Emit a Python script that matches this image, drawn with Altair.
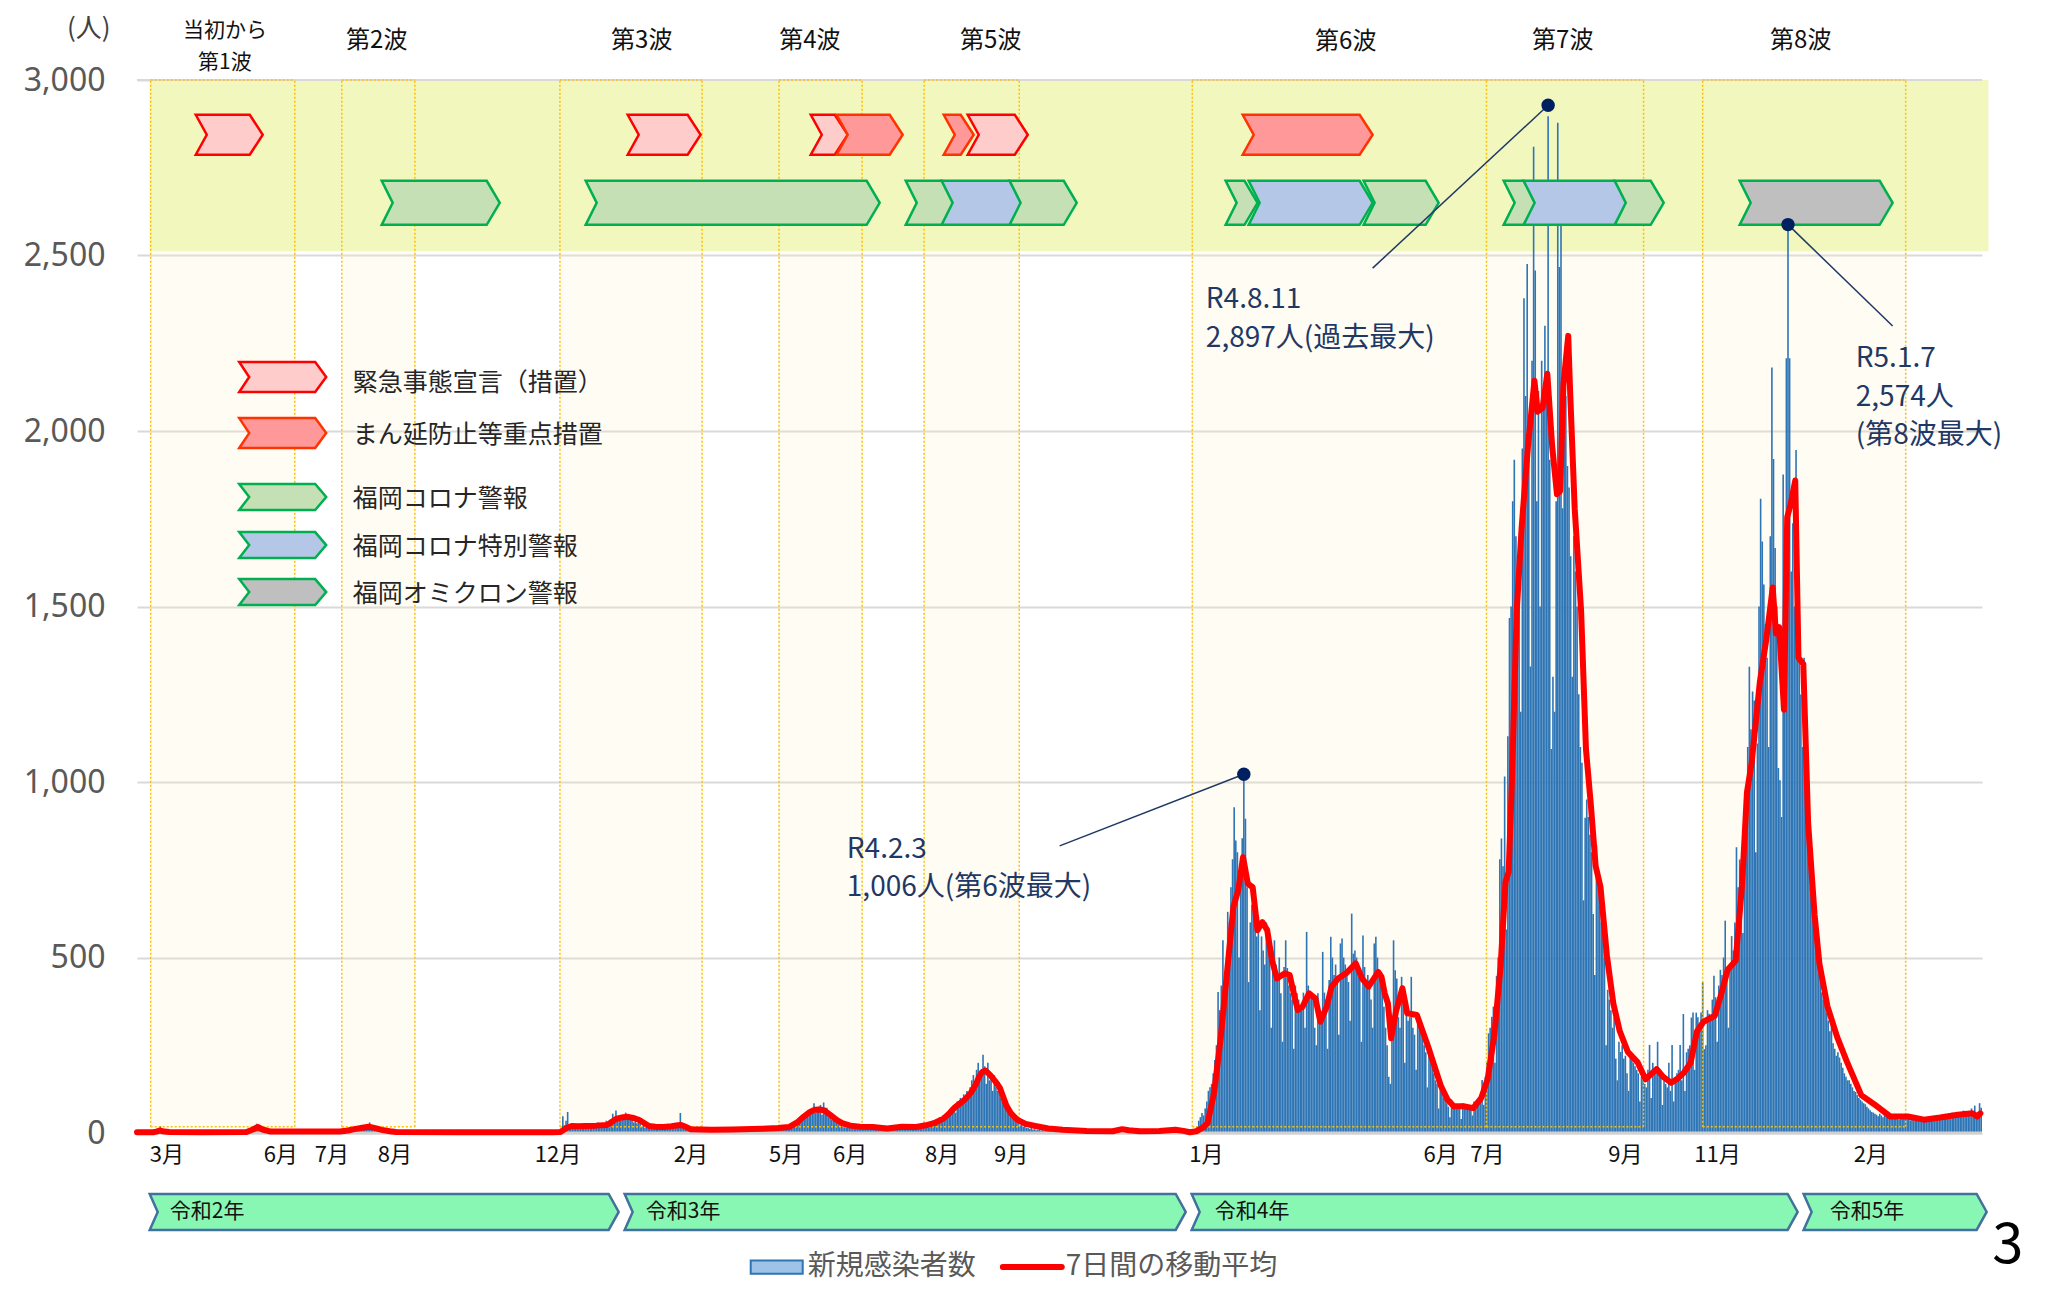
import altair as alt
import pandas as pd

# ------------------------------------------------------------------
# Daily new cases (day index 0 = first day of the axis, 2020-03-18)
# ------------------------------------------------------------------
BARS_A = [0,0,0,0,0,0,0,0,0,0,0,1,
          2,8,20,9,4,3,
          1,2,0,1,3,1,0,2,
          1,0,1,2,0,1,0,0,1,0,2,1,0,0,1,
          0,0,1,0,0,0,0,0,1,0,0,0,0,0,0,0,0,0,0,0,0,0,0,0,0,1,0,2,4,
          3,8,12,21,26,18,22,15,10,6,4,2,1,
          1,0,2,1,0,0,1,0,0,0,1,0,0,0,0,1,0,0,0,0,0,0,1,0,0,0,0,0,0,0,1,0,0,0,0,0,1,0,0,0,0,0,1,0,0,1,0,
          1,2,3,4,5,7,9,8,11,14,12,15,17,22,30,16,14,19,13,10,11,8,6,5,4,3,3,2,2,1,1,
          1,0,2,1,0,1,0,0,1,2,0,1,0,0,1,0,2,1,0,0,1,0,0,0,1,0,0,1,0,0,
          0,0,1,0,0,0,0,1,0,0,0,1,0,0,0,0,0,0,1,0,0,0,0,1,0,0,0,0,0,1,
          0,0,0,0,1,0,0,0,0,0,1,0,0,0,0,1,0,0,0,1,0,0,1,0,0,0,1,0,1,0,
          0,1,0,2,1,0,1,2,1]
BARS_B = [1,2,3,10,48,22,35, 60,15,20,18,12,25,14, 22,16,20,28,14,18,24,
          20,15,22,18,25,30,16, 22,28,20,35,26,30,40, 55,38,64,42,48,36,50,
          45,58,40,52,38,44,30, 35,28,40,30,18,22,15, 20,16,14,22,18,12,15,
          18,20,14,12,16,22,18, 15,20,25,18,28,22,24, 57,20,18,10,8,12,6,
          10,8,12,6,9,11,7]
BARS_C = [8,12,6,10,9,14,7, 9,11,5,8,12,10,7, 6,10,14,9,8,12,11, 7,13,10,12,9,15,8,
          10,14,12,9,11,16,13, 8,12,15,11,14,10,13, 9,16,12,14,18,13,15, 11,18,14,20,16]
BARS_D = [15,22,18,30,25,35,40, 45,38,52,60,48,55,62, 70,85,58,66,75,80,52,
          87,60,72,45,50,38,42, 35,30,28,22,25,18,20, 16,22,15,18,20,14,17]
BARS_E = [12,18,15,20,14,16,13, 10,15,18,14,12,20,16, 9,14,12,15,11,13,10,
          12,16,18,20,15,22,19, 14,20,17,22,16,18,15, 13,18,22,16,20,24,19, 21]
BARS_F = [18,25,30,22,35,28,40, 38,45,42,50,36,55,48, 60,72,65,80,58,90,85,
          100,92,110,85,120,105,130, 150,165,140,180,200,160,175, 223,190,140,200,150,160,120,
          165,130,120,145,100,90,110, 80,70,60,55,45,40,35, 30,28,22,25,18,20,15,
          14,12,16,10,11,8,9]
BARS_G = [10,7,9,6,8,5,7, 6,4,8,5,6,4,5, 7,5,6,3,4,6,5, 4,3,5,2,4,3,6, 5,4,2,3,5,4,3,
          4,6,3,5,7,4,6, 5,8,6,9,12,10,14, 11,15,10,12,9,8,7, 6,5,8,4,6,3,5, 4,3,6,5,4,2,3,
          5,4,6,3,7,5,4, 6,8,5,9,7,10,12, 9,11,8,10,7,6,5, 3,2,4,6]
BARS_H = [3,5,10,20,35,45,57, 50,70,90,120,130,140,170, 208,250,402,350,420,549,340,
          480,630,600,700,780,928,833, 800,500,760,840,1006,895,700, 430,600,650,700,600,560,620,
          350,560,520,480,600,560,500, 300,520,549,480,450,500,398, 260,473,549,470,420,398,380,
          240,420,398,380,360,350,400, 300,573,420,398,400,380,300, 250,398,350,330,516,400,380,
          240,436,559,500,450,480,430, 280,540,554,500,480,460,430, 320,625,511,520,500,470,450,
          260,563,473,430,450,420,380, 300,540,559,500,464,436,400, 360,300,250,160,140,280,549,
          464,440,330,300,445,420,200, 340,320,330,445,300,280,180, 341,331,300,280,250,230,130,
          237,220,200,170,150,140,70, 133,120,100,95,85,75,45, 95,85,80,75,70,80,40,
          85,80,75,72,70,78,50, 90,85,95,100,110,151,80, 160,200,284,300,331,360,200]
BARS_I = [447,500,780,839,760,1016,580, 1130,1467,1500,1800,1918,1700,1500,
          1700,1200,1950,2378,2100,2476,1937, 1329,2200,2810,2457,1800,2114,1500,
          2200,2114,2300,2100,2897,1918,1094, 1300,1200,1800,2878,2467,2692,1780,
          2200,2100,1900,1839,1643,1300,1700, 1600,1500,1250,1100,1055,663,898,
          950,900,850,800,624,450,820, 750,650,600,580,500,250,408,
          380,350,300,330,212,150,260, 231,250,212,220,170,120,230,
          210,200,190,180,170,90,160, 150,140,130,180,251,100,200,
          180,190,260,170,160,80,150, 140,130,200,120,251,90,160,
          170,180,251,150,339,120,230, 240,250,329,343,180,343,330,
          300,343,430,239,250,350,340, 330,380,448]
BARS_J = [387,260,420,465,450,500,605,448,300,480,
          561,520,600,814,700,779,720,570,850,953,
          1100,1328,1150,1258,1232,800,1110,1500,1807,1685,
          1563,1450,1354,1100,1700,2181,1920,1667,1500,1040,
          1005,900,1876,1650,2207,2574,2207,1600,1737,1500,
          1946,1667,1400,1249,1100,1354,1000,900,866,700,
          796,650,622,520,480,448,400,380,430,343,
          320,290,308,256,240,220,230,215,200,186,
          170,160,150,150,140,130,120,117,108,100,
          95,90,85,82,75,70,65,60,58,55]
BARS_K = [52,48,55,50,45,52,48, 44,40,52,48,42,46,40, 38,50,46,42,55,44,40,
          36,42,38,35,44,40,36, 34,40,38,42,46,40,38, 40,48,45,42,50,46,44,
          44,52,48,56,50,58,48, 46,55,60,52,58,64,52, 50,60,56,70,62,78,55, 58,85,72]
BAR_SEGMENTS = [(0, BARS_A), (260, BARS_B), (351, BARS_C), (405, BARS_D), (447, BARS_E),
                (490, BARS_F), (560, BARS_G), (655, BARS_H), (844, BARS_I), (980, BARS_J),
                (1080, BARS_K)]

# 7-day moving average
MA_DAY = [0,10,12,14,17,20,40,68,72,75,78,83,126,131,135,140,144,148,152,157,161,200,240,258,
          263,267,270,274,279,285,292,295,298,302,305,309,312,318,322,327,332,336,338,341,344,
          350,357,370,388,398,405,410,414,418,421,424,427,431,435,438,443,449,457,466,475,484,
          490,495,501,505,508,514,518,521,523,525,527,530,533,536,540,543,547,552,558,566,575,
          590,606,612,616,623,635,645,650,654,658,662,665,669,673,677,681,684,687,690,693,696,
          699,702,705,708,713,716,719,721,724,728,732,735,739,742,746,751,757,761,765,771,773,
          775,777,779,782,786,789,795,802,806,810,814,818,824,830,835,839,843,847,850,852,854,
          857,860,864,868,870,873,876,879,882,884,886,889,890,893,897,900,903,906,909,913,917,
          921,926,932,937,941,944,948,953,957,961,965,969,973,980,984,988,993,997,1000,1003,
          1008,1012,1016,1018,1020,1023,1025,1027,1030,1032,1035,1038,1042,1045,1050,1056,1062,
          1071,1079,1089,1100,1110,1120,1131,1140,1143,1145]
MA_VAL = [2,2,4,7,4,3,2,3,10,17,10,4,4,7,11,15,18,14,9,5,3,2,2,2,
          3,15,20,19,20,21,23,32,41,45,46,42,37,20,18,17,19,22,23,17,11,
          10,9,10,12,14,17,30,46,60,66,67,64,50,36,28,21,18,17,13,18,17,
          22,28,41,58,73,94,115,138,160,174,178,165,148,128,78,55,37,26,20,13,9,
          6,5,11,8,5,6,9,6,2,5,15,28,114,265,455,644,691,786,710,700,578,
          601,578,492,440,455,450,388,350,360,398,383,317,360,417,440,455,483,440,417,459,445,
          398,369,270,346,412,341,336,246,189,133,95,76,76,71,100,155,277,475,715,745,1000,
          1486,1722,1957,2143,2055,2065,2163,1957,1820,1829,2133,2271,2133,1780,1486,1094,937,761,702,506,369,
          290,231,202,153,170,182,160,143,155,173,200,290,317,334,395,465,491,709,970,1057,
          1284,1406,1554,1423,1441,1206,1754,1789,1859,1354,1336,883,622,483,361,274,204,
          108,82,47,47,38,44,52,56,47,56]

# Waves (shaded periods, day index)
WAVE_START = [8.5, 127.2, 262.7, 398.8, 488.9, 655.5, 838.2, 972.5]
WAVE_END = [98.0, 172.6, 351.0, 450.4, 548.0, 838.2, 935.8, 1098.6]
FIRST_TITLE = ["当初から", "第1波"]
FIRST_TITLE_VAL = [3140, 3049]
WAVE_TITLE = ["第2波", "第3波", "第4波", "第5波", "第6波", "第7波", "第8波"]
WAVE_TITLE_DAY = [148.9, 313.5, 417.9, 530.3, 750.8, 885.6, 1033.4]
WAVE_TITLE_VAL = [3111, 3111, 3111, 3111, 3108, 3111, 3111]

# Alert periods (chevrons across the top band)
ALERT_KIND = ["E", "E", "E", "M", "M", "E", "M",
              "G", "G", "G", "B", "G", "G", "B", "G", "G", "B", "G", "O"]
ALERT_START = [36.5, 304.8, 418.5, 434.6, 501.1, 516.0, 686.8,
               152.0, 278.7, 477.5, 499.8, 542.0, 676.2, 690.5, 761.9, 848.9, 861.3, 917.9, 995.5]
ALERT_END = [78.1, 350.1, 441.5, 475.6, 519.7, 553.3, 767.5,
             225.3, 461.3, 508.0, 550.1, 583.7, 696.0, 767.5, 808.5, 869.4, 925.9, 948.3, 1090.5]

LEGEND_KIND = ["E", "M", "G", "B", "O"]
LEGEND_LABEL = ["緊急事態宣言（措置）", "まん延防止等重点措置", "福岡コロナ警報", "福岡コロナ特別警報", "福岡オミクロン警報"]
LEGEND_VAL = [2154, 1994, 1812, 1675, 1541]
LEGEND_TEXT_VAL = [2136, 1990, 1806, 1670, 1536]

MONTH_LABEL = ["3月", "6月", "7月", "8月", "12月", "2月", "5月", "6月", "8月", "9月",
               "1月", "6月", "7月", "9月", "11月", "2月"]
MONTH_DAY = [18.5, 89.3, 121.0, 160.2, 261.5, 344.1, 403.2, 443.0, 500.1, 543.0,
             664.2, 809.7, 838.8, 924.5, 981.7, 1076.9]

YEAR_LABEL = ["令和2年", "令和3年", "令和4年", "令和5年"]
YEAR_START = [7.9, 302.9, 655.1, 1035.2]
YEAR_END = [299.2, 651.4, 1031.5, 1148.9]
YEAR_TEXT_DAY = [20.4, 316.0, 669.5, 1051.4]

PEAK_DAY = [687, 876, 1025]
PEAK_VAL = [1006, 2897, 2574]
NOTE_LINES = [["R4.2.3", "1,006人(第6波最大)"],
              ["R4.8.11", "2,897人(過去最大)"],
              ["R5.1.7", "2,574人", "(第8波最大)"]]
NOTE_DAY = [440.9, 663.9, 1067.6]
NOTE_TOP_VAL = [806, 2372, 2204]
LEADER_END_DAY = [573.1, 767.5, 1090.5]
LEADER_END_VAL = [818, 2464, 2299]

# ------------------------------------------------------------------
DAYS = 1146
W, H = 1845, 1053
PXD = W / DAYS
FONT = "Noto Sans CJK JP"

XS = alt.Scale(domain=[0, DAYS], nice=False, zero=False)
YS = alt.Scale(domain=[0, 3000], nice=False, zero=False)
YAX = alt.Axis(values=[0, 500, 1000, 1500, 2000, 2500, 3000], title=None,
               labelExpr="format(datum.value, ',')",
               ticks=False, domain=False, labelFontSize=32, labelColor="#595959",
               labelFont="Noto Sans", labelPadding=32, gridColor="#D9D9D9", gridWidth=2)


def X(f):
    return alt.X(f, type="quantitative", scale=XS, axis=None)


def Y(f):
    return alt.Y(f, type="quantitative", scale=YS, axis=YAX)


STYLE = {
    "E": ("#FFCCCC", "#FF0000"),
    "M": ("#FF9999", "#FF3300"),
    "G": ("#C5E0B4", "#00B050"),
    "B": ("#B4C7E7", "#00B050"),
    "O": ("#BFBFBF", "#00B050"),
}


def chevron(w, h, tip, notch):
    s = w / 2.0
    pts = [(-w / 2, -h / 2), (w / 2 - tip, -h / 2), (w / 2, 0),
           (w / 2 - tip, h / 2), (-w / 2, h / 2), (-w / 2 + notch, 0)]
    return "M" + "L".join(f"{x / s:.5f},{y / s:.5f}" for x, y in pts) + "Z"


# bars
rows = []
for start, vals in BAR_SEGMENTS:
    for i, v in enumerate(vals):
        if v > 0:
            rows.append({"d": start + i, "d2": start + i + 1, "v": v, "b": 0})
bars_df = pd.DataFrame(rows)
ma_df = pd.DataFrame({"d": MA_DAY, "v": MA_VAL})

# wave boxes
box_df = pd.DataFrame({"s": WAVE_START, "e": WAVE_END, "b": 18, "t": 3000})
edges = sorted(set(WAVE_START + WAVE_END))
vline_df = pd.DataFrame({"x": edges, "b": 18, "t": 3000})
hline_df = pd.DataFrame({"s": WAVE_START * 2, "e": WAVE_END * 2, "y": [3000] * 8 + [18] * 8})

# symbols
sym_rows = []
for k, s, e in zip(ALERT_KIND, ALERT_START, ALERT_END):
    row1 = k in ("E", "M")
    w = (e - s) * PXD
    h = 40 if row1 else 44
    fill, stroke = STYLE[k]
    sym_rows.append({"x": (s + e) / 2, "y": 2844 if row1 else 2650,
                     "shape": chevron(w, h, 13, 11), "size": w * w, "fill": fill, "stroke": stroke})
for k, v in zip(LEGEND_KIND, LEGEND_VAL):
    w = 87
    h = 30 if k in ("E", "M") else 26
    fill, stroke = STYLE[k]
    sym_rows.append({"x": 90.5, "y": v, "shape": chevron(w, h, 11, 10), "size": w * w,
                     "fill": fill, "stroke": stroke})
for s, e in zip(YEAR_START, YEAR_END):
    w = (e - s) * PXD
    sym_rows.append({"x": (s + e) / 2, "y": -225, "shape": chevron(w, 36, 10, 8), "size": w * w,
                     "fill": "#89F7B4", "stroke": "#41719C"})
sym_df = pd.DataFrame(sym_rows)

layers = []
# wave shading
layers.append(alt.Chart(box_df).mark_rect(color="#FFF1C6", opacity=0.2).encode(
    x=X("s"), x2="e", y=Y("b"), y2="t"))
# top band
layers.append(alt.Chart(pd.DataFrame({"s": [7.9], "e": [1150], "b": [2512], "t": [3000]}))
              .mark_rect(color="#F2F7BD").encode(x=X("s"), x2="e", y=Y("b"), y2="t"))
# daily bars
layers.append(alt.Chart(bars_df).mark_bar(color="#2E75B6", strokeWidth=0).encode(
    x=X("d"), x2="d2", y=Y("v"), y2="b"))
# gridline at top of the band, x-axis baseline
layers.append(alt.Chart(pd.DataFrame({"s": [0], "e": [DAYS], "y": [3000]}))
              .mark_rule(color="#D9D9D9", strokeWidth=2).encode(x=X("s"), x2="e", y=Y("y")))
layers.append(alt.Chart(pd.DataFrame({"s": [0], "e": [DAYS], "y": [0]}))
              .mark_rule(color="#D0D0D0", strokeWidth=3).encode(x=X("s"), x2="e", y=Y("y")))
# dotted wave borders
layers.append(alt.Chart(vline_df).mark_rule(color="#FFC000", strokeWidth=1.5, strokeDash=[2, 2])
              .encode(x=X("x"), y=Y("b"), y2="t"))
layers.append(alt.Chart(hline_df).mark_rule(color="#FFC000", strokeWidth=1.5, strokeDash=[2, 2])
              .encode(x=X("s"), x2="e", y=Y("y")))
# moving average
layers.append(alt.Chart(ma_df).mark_line(color="#FF0000", strokeWidth=6, strokeJoin="round",
                                          strokeCap="round").encode(x=X("d"), y=Y("v")))
# chevrons
layers.append(alt.Chart(sym_df).mark_point(filled=True, opacity=1, fillOpacity=1, strokeWidth=2.5)
              .encode(x=X("x"), y=Y("y"),
                      shape=alt.Shape("shape:N", scale=None),
                      size=alt.Size("size:Q", scale=None),
                      fill=alt.Fill("fill:N", scale=None),
                      stroke=alt.Stroke("stroke:N", scale=None)))

# peak annotations
lead_df = pd.DataFrame({"x": [d + 0.5 for d in PEAK_DAY],
                        "y": [1022, 2928, 2588],
                        "x2": LEADER_END_DAY, "y2": LEADER_END_VAL})
layers.append(alt.Chart(lead_df).mark_rule(color="#1F3864", strokeWidth=1.5)
              .encode(x=X("x"), y=Y("y"), x2="x2", y2="y2"))
layers.append(alt.Chart(lead_df).mark_point(filled=True, opacity=1, color="#002060", size=180)
              .encode(x=X("x"), y=Y("y")))


def text_layer(df, align, size, color):
    return alt.Chart(df).mark_text(align=align, baseline="middle", font=FONT, fontSize=size,
                                   color=color).encode(x=X("x"), y=Y("y"), text="t:N")


note_rows = []
for lines, d, top in zip(NOTE_LINES, NOTE_DAY, NOTE_TOP_VAL):
    for i, t in enumerate(lines):
        note_rows.append({"x": d, "y": top - i * 109, "t": t})
layers.append(text_layer(pd.DataFrame(note_rows), "left", 28, "#1F3864"))

layers.append(text_layer(pd.DataFrame({"x": [54.6, 54.6], "y": FIRST_TITLE_VAL, "t": FIRST_TITLE}),
                         "center", 21, "#111111"))
layers.append(text_layer(pd.DataFrame({"x": WAVE_TITLE_DAY, "y": WAVE_TITLE_VAL, "t": WAVE_TITLE}),
                         "center", 24, "#111111"))
layers.append(text_layer(pd.DataFrame({"x": MONTH_DAY, "y": [-63] * len(MONTH_DAY), "t": MONTH_LABEL}),
                         "center", 22, "#111111"))
layers.append(text_layer(pd.DataFrame({"x": YEAR_TEXT_DAY, "y": [-225] * 4, "t": YEAR_LABEL}),
                         "left", 21, "#111111"))
layers.append(text_layer(pd.DataFrame({"x": [134.0] * 5, "y": LEGEND_TEXT_VAL, "t": LEGEND_LABEL}),
                         "left", 25, "#262626"))
layers.append(text_layer(pd.DataFrame({"x": [-30], "y": [3145], "t": ["(人)"]}), "center", 26, "#404040"))
layers.append(text_layer(pd.DataFrame({"x": [1162], "y": [-322], "t": ["3"]}), "center", 56, "#000000"))

# bottom legend
layers.append(alt.Chart(pd.DataFrame({"s": [381.2], "e": [413.5], "b": [-401], "t": [-363]}))
              .mark_rect(fill="#9DC3E6", stroke="#2E75B6", strokeWidth=2)
              .encode(x=X("s"), x2="e", y=Y("b"), y2="t"))
layers.append(alt.Chart(pd.DataFrame({"s": [537.8], "e": [574.4], "y": [-382]}))
              .mark_rule(color="#FF0000", strokeWidth=6, strokeCap="round")
              .encode(x=X("s"), x2="e", y=Y("y")))
layers.append(text_layer(pd.DataFrame({"x": [416.6, 576.9], "y": [-382, -382],
                                       "t": ["新規感染者数", "7日間の移動平均"]}),
                         "left", 28, "#595959"))

chart = alt.layer(*layers).properties(
    width=W, height=H,
    padding={"left": 129, "top": 72, "right": 57, "bottom": 150},
    autosize=alt.AutoSizeParams(type="none"),
    background="#FFFFFF",
).configure_view(stroke=None)

chart.save("out.html", embed_options={"renderer": "svg", "actions": False})
